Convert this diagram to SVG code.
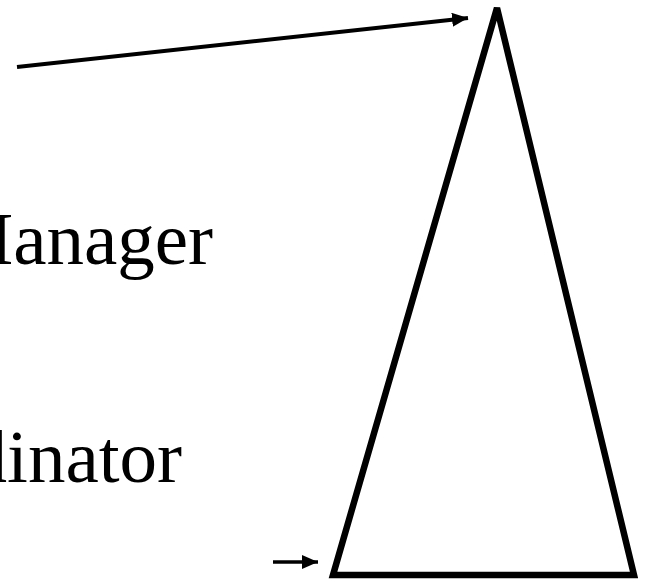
<svg xmlns="http://www.w3.org/2000/svg" width="645" height="582" viewBox="0 0 645 582">
<style>
.lbl{font-family:"Liberation Serif","Times New Roman",serif;font-size:75px;fill:#000}
.edge{stroke:#000;fill:none}
</style>
<defs>
<marker id="ah" viewBox="0 0 16 14" refX="16" refY="7" markerWidth="16" markerHeight="14" markerUnits="userSpaceOnUse" orient="auto">
<path d="M0,0 L16,7 L0,14 z" fill="#000"/>
</marker>
</defs>
<rect width="645" height="582" fill="#fff"/>
<g id="pyramid">
<path d="M497,8 L333,575 L634,575 Z" fill="none" stroke="#000" stroke-width="6.5" stroke-miterlimit="2"/>
</g>
<g id="label-manager">
<text class="lbl" x="213" y="264" text-anchor="end">Manager</text>
</g>
<g id="label-coordinator">
<text class="lbl" x="182" y="482" text-anchor="end">Coordinator</text>
</g>
<g id="connectors">
<line class="edge" x1="17" y1="67" x2="468" y2="18" stroke-width="4" marker-end="url(#ah)"/>
<line class="edge" x1="273" y1="562" x2="318" y2="562" stroke-width="3.5" marker-end="url(#ah)"/>
</g>
</svg>
